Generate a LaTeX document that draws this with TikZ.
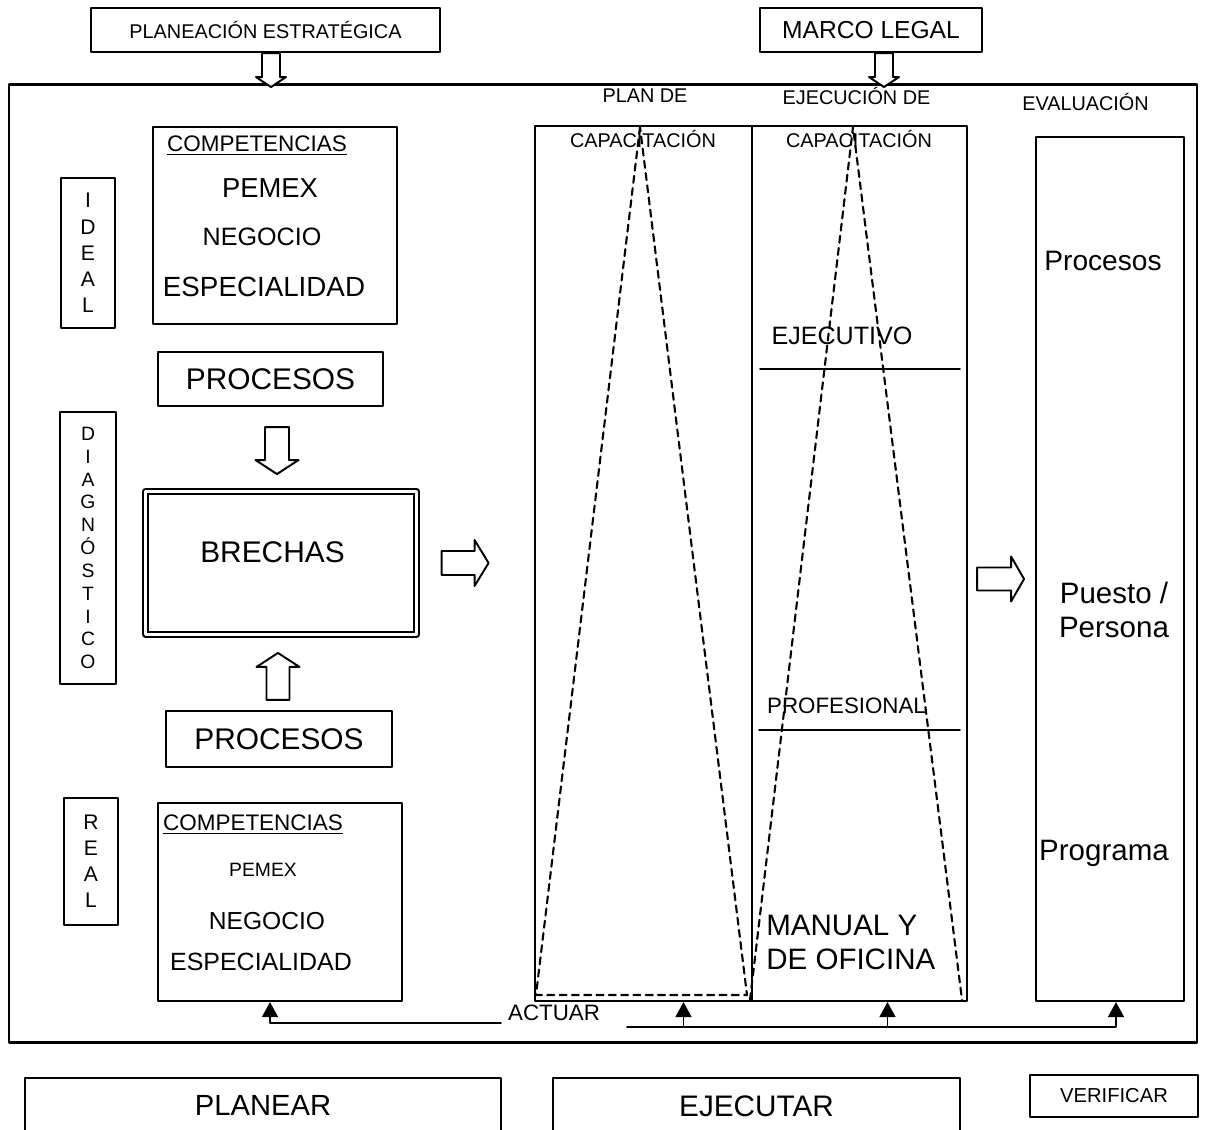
\documentclass[tikz,border=0pt]{standalone}
\usepackage{fontspec}
\setmainfont{Liberation Sans}
\usetikzlibrary{arrows.meta}
\newcommand{\fsz}[2]{\fontsize{#1}{#2}\selectfont}
\begin{document}
\begin{tikzpicture}[x=0.02cm, y=-0.02cm, line join=round, line cap=round,
	box/.style={draw, line width=1.2pt, inner sep=0pt},
	txt/.style={inner sep=0pt},
	tri/.style={line width=1.1pt, -{Triangle[length=8.5pt,width=9pt]}},
	punt/.style={line width=1.2pt, dash pattern=on 4pt off 3pt},
	pics/hueca/.style n args={4}{code={
		\draw[line width=1.1pt, fill=white] (0,{-#2/2}) -- ({#1-#4},{-#2/2}) -- ({#1-#4},{-#3/2}) -- (#1,0)
		-- ({#1-#4},{#3/2}) -- ({#1-#4},{#2/2}) -- (0,{#2/2}) -- cycle;}}]
	\newdimen\pxu
	\pxu=0.02cm
	\useasboundingbox (0,0) rectangle (1210,1129);
	\clip (0,0) rectangle (1210,1129);
	% marco exterior
	\node[box, minimum width=1188\pxu, minimum height=958\pxu] (frame) at (603,563.5) {};
	\node[box, minimum width=349\pxu, minimum height=44\pxu, font=\fsz{11.3}{13}] (planea) at (265.5,30) {PLANEACIÓN ESTRATÉGICA};
	\node[box, minimum width=222\pxu, minimum height=44\pxu, font=\fsz{14}{16}] (marco) at (871,30) {MARCO LEGAL};
	\pic[rotate=-90] at ([xshift=5.5\pxu]planea.south) {hueca={34}{18}{30}{10}};
	\pic[rotate=-90] at ([xshift=13\pxu]marco.south) {hueca={34}{18}{30}{10}};
	% columna izquierda
	\node[box, minimum width=54\pxu, minimum height=150\pxu, align=center, font=\fsz{12}{14.9}] (ideal) at (88,253) {I\\D\\E\\A\\L};
	\node[box, minimum width=56\pxu, minimum height=272\pxu, align=center, font=\fsz{11}{13}] (diag) at (88,548) {D\\I\\A\\G\\N\\Ó\\S\\T\\I\\C\\O};
	\node[box, minimum width=54\pxu, minimum height=127\pxu, align=center, font=\fsz{12}{14.8}] (real) at (91,861.5) {R\\E\\A\\L};
	\node[box, minimum width=244\pxu, minimum height=197\pxu] (compA) at (275,225.5) {};
	\node[box, minimum width=244\pxu, minimum height=198\pxu] (compB) at (280,902) {};
	\node[txt, font=\fsz{12.8}{15}] (compAt) at (257,146) {\underline{COMPETENCIAS}};
	\node[txt, font=\fsz{12.8}{15}] (compBt) at (253,825) {\underline{COMPETENCIAS}};
	\foreach \n/\x/\y/\s/\t in
	{ pemexA/270/188/15.6/PEMEX,
		negA/262/237/14.3/NEGOCIO,
		espA/264/286.5/15.8/ESPECIALIDAD,
		pemexB/263/869.5/11/PEMEX,
		negB/267/921/14/NEGOCIO,
		espB/261/961.5/14.2/ESPECIALIDAD
	}
	\node[txt, font=\fsz{\s}{18}] (\n) at (\x,\y) {\t};
	\node[box, minimum width=225\pxu, minimum height=54\pxu, font=\fsz{17}{20}] (procA) at (270.5,379) {PROCESOS};
	\node[box, minimum width=226\pxu, minimum height=56\pxu, font=\fsz{17}{20}] (procB) at (279,739) {PROCESOS};
	\node[box, double, line width=1.2pt, double distance=1.6pt, minimum width=271\pxu, minimum height=143\pxu] (brechas) at (281,563) {};
	\node[txt, font=\fsz{17}{20}] (brechasT) at (272.5,552) {BRECHAS};
	\pic[rotate=-90] at ([shift={(6.5,20)}]procA.south) {hueca={47}{24}{43}{14}};
	\pic[rotate=90] at ([shift={(-1,-10)}]procB.north) {hueca={47}{23}{43}{14}};
	\pic at ([xshift=24\pxu]brechas.east) {hueca={47}{24}{46}{14}};
	% plan, ejecucion, evaluacion
	\node[box, minimum width=217\pxu, minimum height=875\pxu] (plan) at (643.5,563.5) {};
	\node[box, minimum width=215\pxu, minimum height=875\pxu] (ejec) at (859.5,563.5) {};
	\node[box, minimum width=148\pxu, minimum height=864\pxu] (eval) at (1110,569) {};
	\foreach \n/\x/\y/\t in
	{ planT/645/96/PLAN DE,
		planC/643/139/CAPACITACIÓN,
		ejecT/856.5/95.5/EJECUCIÓN DE,
		ejecC/859/139/CAPACITACIÓN,
		evalT/1085.5/101.5/EVALUACIÓN
	}
	\node[txt, font=\fsz{11.3}{13}] (\n) at (\x,\y) {\t};
	\draw[punt] (640,127) -- (536,995) -- (747,995) -- cycle;
	\draw[punt] (750,1000) -- (853,127) -- (962,1000);
	\node[txt, font=\fsz{14.3}{17}] (ejecu) at (842,336) {EJECUTIVO};
	\node[txt, font=\fsz{12.7}{15}] (profe) at (846.5,706) {PROFESIONAL};
	\node[txt, anchor=west, align=left, font=\fsz{16.8}{19.8}] (manual) at (766,942.5) {MANUAL Y\\DE OFICINA};
	\draw[line width=1pt] (760,369) -- (960,369);
	\draw[line width=1pt] (759,730) -- (960,730);
	\pic at ([shift={(9,15.5)}]ejec.east) {hueca={47}{23}{45}{13}};
	\node[txt, font=\fsz{16}{19}] (procE) at (1103,261) {Procesos};
	\node[txt, align=center, font=\fsz{16.8}{19.4}] (puesto) at (1114,610) {Puesto /\\Persona};
	\node[txt, font=\fsz{16.8}{19}] (progr) at (1104,853) {Programa};
	% actuar
	\node[txt, font=\fsz{12.7}{15}] (actuar) at (554,1012.5) {ACTUAR};
	\coordinate (actL) at (501,1023);
	\coordinate (actR) at (627,1027);
	\draw[tri] (actL) -| ([xshift=-10\pxu]compB.south);
	\draw[tri] (actR) -| ([xshift=6\pxu]eval.south);
	\foreach \n/\d in {plan/40, ejec/28}
	\draw[tri] ([xshift=\d\pxu]\n.south |- actR) -- ([xshift=\d\pxu]\n.south);
	% abajo
	\node[box, minimum width=476\pxu, minimum height=54\pxu, font=\fsz{16.6}{20}] (planear) at (263,1105) {PLANEAR};
	\node[box, minimum width=407\pxu, minimum height=56\pxu, font=\fsz{16.9}{20}] (ejecutar) at (756.5,1106) {EJECUTAR};
	\node[box, minimum width=168\pxu, minimum height=42\pxu, font=\fsz{11.5}{14}] (verificar) at (1114,1096) {VERIFICAR};
\end{tikzpicture}
\end{document}
